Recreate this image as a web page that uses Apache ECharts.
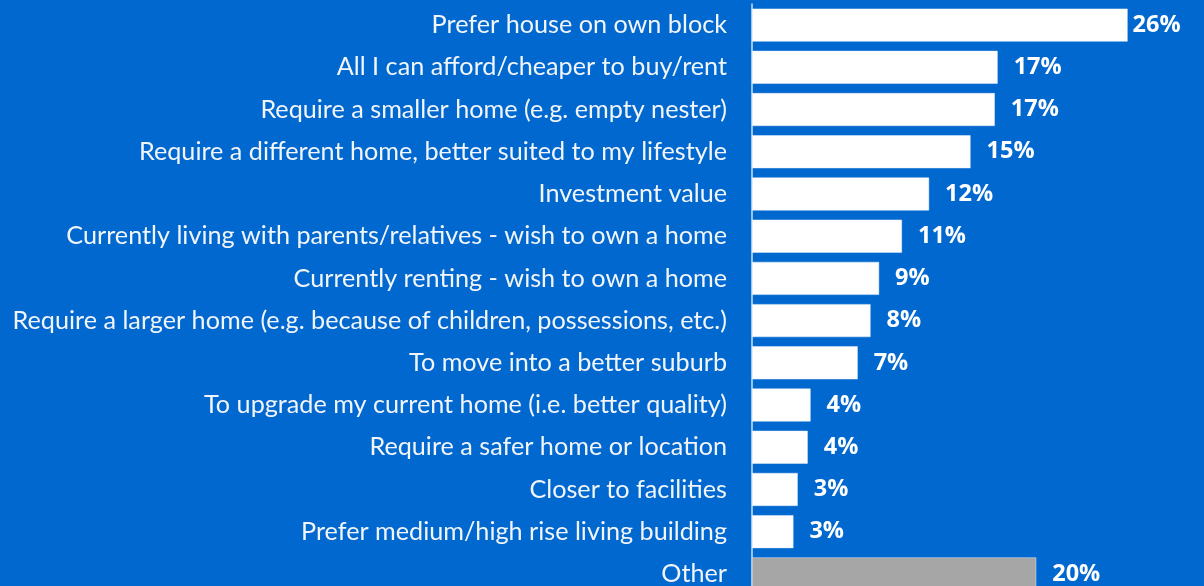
<!DOCTYPE html>
<html>
<head>
<meta charset="utf-8">
<script src="https://cdn.jsdelivr.net/npm/echarts@6/dist/echarts.min.js"></script>
<style>
html,body{margin:0;padding:0;background:#0068CF;overflow:hidden;width:1204px;height:586px;}
#chart{width:1204px;height:596px;}
</style>
</head>
<body>
<div id="chart"></div>
<script>
var categories = [
  "Prefer house on own block",
  "All I can afford/cheaper to buy/rent",
  "Require a smaller home (e.g. empty nester)",
  "Require a different home, better suited to my lifestyle",
  "Investment value",
  "Currently living with parents/relatives - wish to own a home",
  "Currently renting - wish to own a home",
  "Require a larger home (e.g. because of children, possessions, etc.)",
  "To move into a better suburb",
  "To upgrade my current home (i.e. better quality)",
  "Require a safer home or location",
  "Closer to facilities",
  "Prefer medium/high rise living building",
  "Other"
];
var values = [26.3, 17.2, 17.0, 15.3, 12.4, 10.5, 8.9, 8.3, 7.4, 4.1, 3.9, 3.2, 2.9, 19.9];

var chart = echarts.init(document.getElementById('chart'));
var data = values.map(function (v, i) {
  var item = { value: v };
  if (i === categories.length - 1) item.itemStyle = { color: '#A6A6A6' };
  if (i === 0) item.label = { distance: 5 };
  return item;
});
chart.setOption({
  backgroundColor: '#0068CF',
  animation: false,
  grid: { left: 752, width: 452, top: 4, height: 591, containLabel: false },
  xAxis: {
    type: 'value', min: 0, max: 31.65,
    show: false
  },
  yAxis: {
    type: 'category',
    data: categories,
    inverse: true,
    axisLine: { show: true, lineStyle: { color: '#CFE0F3', width: 1.5 } },
    axisTick: { show: false },
    axisLabel: {
      margin: 25,
      color: '#F2F5FA',
      fontFamily: 'Lato',
      fontSize: 25.2
    }
  },
  series: [{
    type: 'bar',
    data: data,
    barCategoryGap: '22%',
    itemStyle: { color: '#FFFFFF', borderColor: '#E4EEF8', borderWidth: 0.5 },
    label: {
      show: true,
      position: 'right',
      distance: 16,
      color: '#FFFFFF',
      fontFamily: 'Open Sans',
      fontWeight: 'bold',
      fontSize: 23.5,
      formatter: function (p) { return Math.round(p.value) + '%'; }
    }
  }]
});
</script>
</body>
</html>
